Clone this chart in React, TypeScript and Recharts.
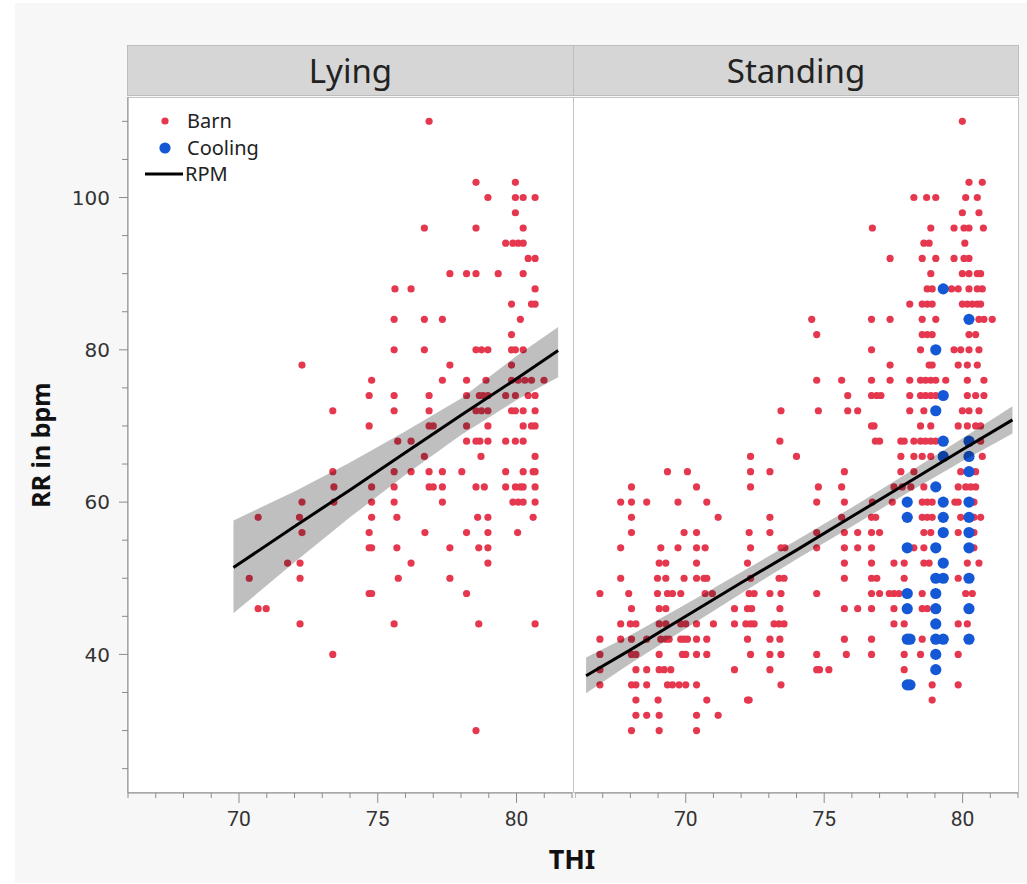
import React from 'react';
import { ComposedChart, Scatter, Line, Area, XAxis, YAxis } from 'recharts';

const RED = '#e5384f';
const BLUE = '#1558d6';

const thiTicks = [66, 67, 68, 69, 70, 71, 72, 73, 74, 75, 76, 77, 78, 79, 80, 81, 82];
const thiLabels = [70, 75, 80];
const rrTicks = [25, 30, 35, 40, 45, 50, 55, 60, 65, 70, 75, 80, 85, 90, 95, 100, 105, 110];
const rrLabels = [40, 60, 80, 100];

// rows: [RR, THI values]
const lyingBarn: [number, number[]][] = [
  [110, [76.85]],
  [102, [78.54, 79.96]],
  [100, [78.97, 79.96, 80.24, 80.67]],
  [98, [79.96]],
  [96, [76.68, 78.54, 80.24]],
  [94, [79.61, 79.87, 80.06, 80.24]],
  [92, [80.42, 80.67]],
  [90, [77.6, 78.2, 78.54, 79.34, 80.24]],
  [88, [75.62, 76.2, 80.67]],
  [86, [79.82, 80.54, 80.67]],
  [84, [75.59, 76.68, 77.33, 80.14]],
  [82, [79.82]],
  [80, [75.59, 76.68, 78.54, 78.74, 78.97, 79.82, 79.96, 80.24]],
  [78, [72.27, 77.6, 79.82]],
  [76, [74.78, 77.33, 78.2, 78.9, 79.82, 80.06, 80.3, 80.54, 80.99]],
  [74, [74.69, 75.59, 76.85, 78.2, 78.66, 78.8, 78.97, 79.61, 79.96, 80.42, 80.67]],
  [72, [73.38, 75.59, 76.85, 78.54, 78.74, 78.97, 79.82, 79.96, 80.24, 80.67]],
  [70, [74.69, 76.85, 77.0, 78.2, 78.97, 80.24, 80.54, 80.67]],
  [68, [75.72, 76.2, 78.2, 78.54, 78.68, 78.97, 79.61, 79.96, 80.24]],
  [66, [76.68, 78.72, 80.67]],
  [64, [73.38, 75.59, 76.2, 76.85, 77.33, 78.03, 79.61, 80.24, 80.6, 80.67]],
  [62, [73.42, 74.78, 75.59, 76.85, 77.0, 77.33, 78.54, 78.84, 79.61, 79.96, 80.14, 80.24, 80.67]],
  [60, [72.27, 73.42, 74.78, 75.59, 77.33, 79.87, 80.06, 80.24, 80.67]],
  [58, [70.69, 72.18, 74.78, 75.69, 78.6, 78.97, 80.6]],
  [56, [72.27, 74.69, 76.7, 78.2, 78.97, 80.04]],
  [54, [74.69, 74.78, 75.69, 77.6, 78.64, 78.97]],
  [52, [71.75, 72.2, 76.2, 78.97]],
  [50, [70.37, 72.2, 75.74, 77.6]],
  [48, [74.69, 74.78, 78.2]],
  [46, [70.69, 70.98]],
  [44, [72.2, 75.59, 78.64, 80.67]],
  [40, [73.38]],
  [30, [78.54]],
];

const standingBarn: [number, number[]][] = [
  [110, [79.99]],
  [102, [80.23, 80.71]],
  [100, [78.24, 78.7, 79.03, 80.11, 80.53]],
  [98, [79.99, 80.59]],
  [96, [76.74, 78.85, 79.69, 80.05, 80.23, 80.75]],
  [94, [78.6, 78.79, 80.08]],
  [92, [77.38, 78.54, 79.03, 79.69, 80.05, 80.23]],
  [90, [78.85, 79.99, 80.23, 80.53, 80.65]],
  [88, [78.72, 78.9, 79.6, 79.84, 80.23, 80.53, 80.71]],
  [86, [78.09, 78.54, 78.72, 78.9, 79.99, 80.17, 80.35, 80.53, 80.65]],
  [84, [74.55, 76.71, 77.38, 78.54, 79.03, 80.59, 80.77, 81.07]],
  [82, [74.73, 78.54, 78.72, 78.9, 80.23, 80.47]],
  [80, [76.71, 78.48, 79.69, 79.93, 80.23, 80.59]],
  [78, [77.38, 78.79, 78.9, 79.84, 80.17, 80.53]],
  [76, [74.73, 75.63, 76.71, 77.38, 78.09, 78.48, 78.66, 78.85, 79.03, 79.39, 80.17, 80.77]],
  [74, [75.85, 76.71, 76.9, 77.05, 78.09, 78.48, 78.66, 78.85, 79.03, 80.17, 80.47, 80.77]],
  [72, [73.44, 74.79, 75.85, 76.21, 78.09, 78.6, 79.99, 80.23, 80.59]],
  [70, [76.71, 76.8, 78.48, 78.85, 79.84, 80.17, 80.47, 80.65]],
  [68, [73.4, 76.85, 77.0, 77.77, 77.89, 78.24, 78.48, 78.66, 78.85, 79.03, 80.65]],
  [66, [72.34, 74.0, 77.77, 78.24, 78.54, 78.85, 80.71]],
  [64, [69.34, 70.06, 72.34, 73.04, 75.73, 77.77, 78.24, 79.93, 80.47]],
  [62, [68.04, 70.39, 72.34, 74.79, 75.63, 77.52, 77.82, 78.13, 78.6, 79.84, 80.11, 80.29, 80.47]],
  [60, [67.65, 68.04, 68.59, 69.72, 70.76, 74.73, 75.73, 76.74, 77.46, 78.54, 78.72, 78.9, 79.72, 79.84, 80.41]],
  [58, [68.04, 71.17, 73.04, 75.63, 76.71, 76.86, 78.54, 78.72, 78.9, 79.93, 80.41, 80.65]],
  [56, [68.04, 69.94, 70.39, 72.29, 73.04, 74.73, 75.73, 76.21, 76.71, 77.0, 78.6, 78.85, 79.84, 80.41]],
  [54, [67.65, 69.1, 69.72, 70.39, 70.7, 72.34, 73.44, 73.58, 74.73, 75.73, 76.21, 76.71, 78.24, 78.6, 80.41]],
  [52, [69.04, 69.28, 70.39, 72.23, 75.73, 76.71, 77.52, 77.89, 78.6, 78.79, 80.17, 80.59]],
  [50, [67.65, 68.98, 69.28, 69.94, 70.39, 70.66, 70.76, 72.34, 73.37, 73.55, 75.73, 76.71, 76.9, 77.89, 79.84]],
  [48, [66.9, 67.94, 68.98, 69.34, 69.52, 69.82, 70.7, 70.96, 72.29, 72.47, 73.04, 73.44, 74.73, 76.71, 77.0, 77.35, 77.52, 77.7, 78.54, 80.11, 80.35]],
  [46, [68.04, 69.04, 69.28, 71.76, 72.23, 72.38, 73.4, 75.73, 76.21, 76.71, 77.52, 78.54, 78.72]],
  [44, [67.65, 68.0, 68.2, 69.04, 69.28, 69.82, 70.0, 70.39, 71.0, 71.76, 72.17, 72.34, 72.47, 73.19, 73.37, 73.55, 77.52, 77.89, 79.84, 80.17]],
  [42, [66.9, 67.65, 68.04, 68.59, 69.1, 69.28, 69.4, 69.82, 69.94, 70.06, 70.39, 70.76, 72.23, 73.04, 73.4, 75.73, 76.71, 78.54]],
  [40, [66.9, 68.04, 68.2, 69.04, 69.88, 70.0, 70.39, 70.76, 72.34, 73.04, 73.44, 74.73, 75.8, 76.71, 77.89, 78.48, 79.84]],
  [38, [66.9, 68.2, 68.59, 69.04, 69.22, 69.46, 71.76, 73.04, 74.73, 74.83, 75.17, 77.89]],
  [36, [66.9, 68.04, 68.2, 68.59, 69.34, 69.52, 69.76, 70.0, 70.39, 73.44, 78.9, 79.84]],
  [34, [68.2, 69.0, 70.76, 72.23, 72.29, 78.9]],
  [32, [68.2, 68.59, 69.04, 70.39, 71.17]],
  [30, [68.04, 69.04, 70.39]],
];

const standingCooling: [number, number[]][] = [
  [88, [79.3]],
  [84, [80.23]],
  [80, [79.03]],
  [74, [79.3]],
  [72, [79.03]],
  [68, [79.3, 80.23]],
  [66, [79.3, 80.23]],
  [64, [80.23]],
  [62, [79.03]],
  [60, [78.0, 79.3, 80.23]],
  [58, [78.0, 79.3, 80.23]],
  [56, [79.3, 80.23]],
  [54, [78.0, 79.03, 80.23]],
  [52, [79.3]],
  [50, [79.03, 79.3, 80.23]],
  [48, [78.0, 79.03]],
  [46, [78.0, 79.03, 80.23]],
  [44, [79.03]],
  [42, [78.0, 78.1, 79.03, 79.3, 80.23]],
  [40, [79.03]],
  [38, [79.03]],
  [36, [78.0, 78.1]],
];

// fitted line and confidence band, read at a few THI values
const lyingFitTHI = [69.8, 72, 74, 76, 78, 80, 81.5];
const lyingFitLow = [45.4, 52.1, 58.0, 63.6, 68.8, 73.4, 76.4];
const lyingFit = [51.4, 56.8, 61.6, 66.5, 71.4, 76.2, 79.9];
const lyingFitHigh = [57.6, 61.4, 65.2, 69.3, 73.6, 79.2, 83.0];

const standingFitTHI = [66.4, 68, 70, 72, 74, 76, 78, 80, 81.8];
const standingFitLow = [34.9, 38.8, 43.4, 48.0, 52.5, 56.8, 61.2, 65.4, 69.0];
const standingFit = [37.2, 40.6, 45.0, 49.4, 53.7, 58.1, 62.5, 66.9, 70.8];
const standingFitHigh = [39.6, 42.5, 46.6, 50.8, 55.0, 59.3, 63.8, 68.4, 72.6];

const toPoints = (rows: [number, number[]][]) =>
  rows.flatMap(([rr, list]) => list.map((thi) => ({ thi, rr })));

const toBand = (thi: number[], lo: number[], mid: number[], hi: number[]) =>
  thi.map((t, i) => ({ thi: t, range: [lo[i], hi[i]], fit: mid[i] }));

const PLOT_TOP = 97;
const PLOT_H = 696;
const X_AXIS_H = 80;
const FONT = "'Noto Sans', sans-serif";

const YTick = (props: any) => {
  const { x, y, payload } = props;
  const major = rrLabels.includes(payload.value);
  return (
    <g>
      <line x1={x - (major ? 9 : 6)} x2={x} y1={y} y2={y} stroke="#8c8c8c" />
      {major && (
        <text x={x - 18} y={y} dy="0.36em" textAnchor="end" fontSize={20} fill="#333"
          fontFamily="'DejaVu Sans', sans-serif">
          {payload.value}
        </text>
      )}
    </g>
  );
};

const XTick = (props: any) => {
  const { x, y, payload } = props;
  const major = thiLabels.includes(payload.value);
  return (
    <g>
      <line x1={x} x2={x} y1={y} y2={y + (major ? 10 : 5)} stroke="#8c8c8c" />
      {major && (
        <text x={x} y={y + 25} dy="0.36em" textAnchor="middle" fontSize={21} fill="#333"
          fontFamily="'Liberation Sans Narrow', 'Roboto', sans-serif">
          {payload.value}
        </text>
      )}
    </g>
  );
};

const redDot = (p: any) => <circle cx={p.cx} cy={p.cy} r={3.6} fill={RED} />;
const blueDot = (p: any) => <circle cx={p.cx} cy={p.cy} r={5.6} fill={BLUE} />;

type PanelProps = {
  left: number;
  width: number;
  yWidth: number;
  barn: { thi: number; rr: number }[];
  cooling: { thi: number; rr: number }[];
  band: { thi: number; range: number[]; fit: number }[];
};

const Panel = ({ left, width, yWidth, barn, cooling, band }: PanelProps) => (
  <div style={{ position: 'absolute', left, top: PLOT_TOP }}>
    <ComposedChart width={width} height={PLOT_H + X_AXIS_H} margin={{ top: 0, right: 5, bottom: 0, left: 0 }}>
      <XAxis type="number" dataKey="thi" domain={[66, 82]} ticks={thiTicks} allowDataOverflow
        height={X_AXIS_H} tickSize={0} tickMargin={0} tickLine={false} tick={<XTick />}
        axisLine={{ stroke: '#8c8c8c' }} interval={0} />
      <YAxis type="number" domain={[21.8, 113.2]} ticks={rrTicks} allowDataOverflow
        width={yWidth} hide={yWidth === 0} tickSize={0} tickMargin={0} tickLine={false}
        tick={<YTick />} axisLine={{ stroke: '#8c8c8c' }} interval={0} />
      <Scatter name="Barn" data={barn} dataKey="rr" shape={redDot} isAnimationActive={false} />
      {cooling.length > 0 && (
        <Scatter name="Cooling" data={cooling} dataKey="rr" shape={blueDot} isAnimationActive={false} />
      )}
      <Area data={band} dataKey="range" type="linear" stroke="none" fill="#000" fillOpacity={0.25}
        isAnimationActive={false} zIndex={650} />
      <Line data={band} dataKey="fit" type="linear" stroke="#000" strokeWidth={3} dot={false}
        activeDot={false} isAnimationActive={false} zIndex={700} />
    </ComposedChart>
  </div>
);

const header: React.CSSProperties = {
  position: 'absolute', top: 45, height: 51, background: '#d6d6d6', border: '1px solid #bdbdbd',
  display: 'flex', alignItems: 'center', justifyContent: 'center',
  fontFamily: FONT, fontSize: 33, color: '#222', boxSizing: 'border-box',
};

const plotBox: React.CSSProperties = {
  position: 'absolute', top: PLOT_TOP, height: PLOT_H, background: '#fff',
  border: '1px solid #c4c4c4', boxSizing: 'border-box',
};

const Legend = () => (
  <svg width={160} height={80} style={{ position: 'absolute', left: 140, top: 108 }}>
    <circle cx={25} cy={13} r={3.6} fill={RED} />
    <text x={47} y={20} fontSize={20} fill="#222" fontFamily={FONT}>Barn</text>
    <circle cx={25} cy={40} r={5.6} fill={BLUE} />
    <text x={47} y={47} fontSize={20} fill="#222" fontFamily={FONT}>Cooling</text>
    <line x1={5} x2={43} y1={66} y2={66} stroke="#000" strokeWidth={3} />
    <text x={45} y={73} fontSize={20} fill="#222" fontFamily={FONT}>RPM</text>
  </svg>
);

export default function App() {
  return (
    <div style={{ position: 'absolute', left: 0, top: 0, width: 1027, height: 884, background: '#fff', overflow: 'hidden' }}>
      <div style={{ position: 'absolute', left: 15, top: 3, width: 1012, height: 880, background: '#f7f7f7' }} />
      <div style={{ ...header, left: 127, width: 447 }}>Lying</div>
      <div style={{ ...header, left: 573, width: 446 }}>Standing</div>
      <div style={{ ...plotBox, left: 127, width: 447 }} />
      <div style={{ ...plotBox, left: 573, width: 446 }} />
      <Panel left={15} width={562} yWidth={113} barn={toPoints(lyingBarn)} cooling={[]}
        band={toBand(lyingFitTHI, lyingFitLow, lyingFit, lyingFitHigh)} />
      <Panel left={575} width={448} yWidth={0} barn={toPoints(standingBarn)} cooling={toPoints(standingCooling)}
        band={toBand(standingFitTHI, standingFitLow, standingFit, standingFitHigh)} />
      <Legend />
      <div style={{ position: 'absolute', left: 40, top: 445, transform: 'translate(-50%, -50%) rotate(-90deg)',
        fontFamily: FONT, fontWeight: 'bold', fontSize: 25, color: '#111', whiteSpace: 'nowrap' }}>
        RR in bpm
      </div>
      <div style={{ position: 'absolute', left: 572, top: 858, transform: 'translate(-50%, -50%)',
        fontFamily: FONT, fontWeight: 'bold', fontSize: 27, color: '#111' }}>
        THI
      </div>
    </div>
  );
}
